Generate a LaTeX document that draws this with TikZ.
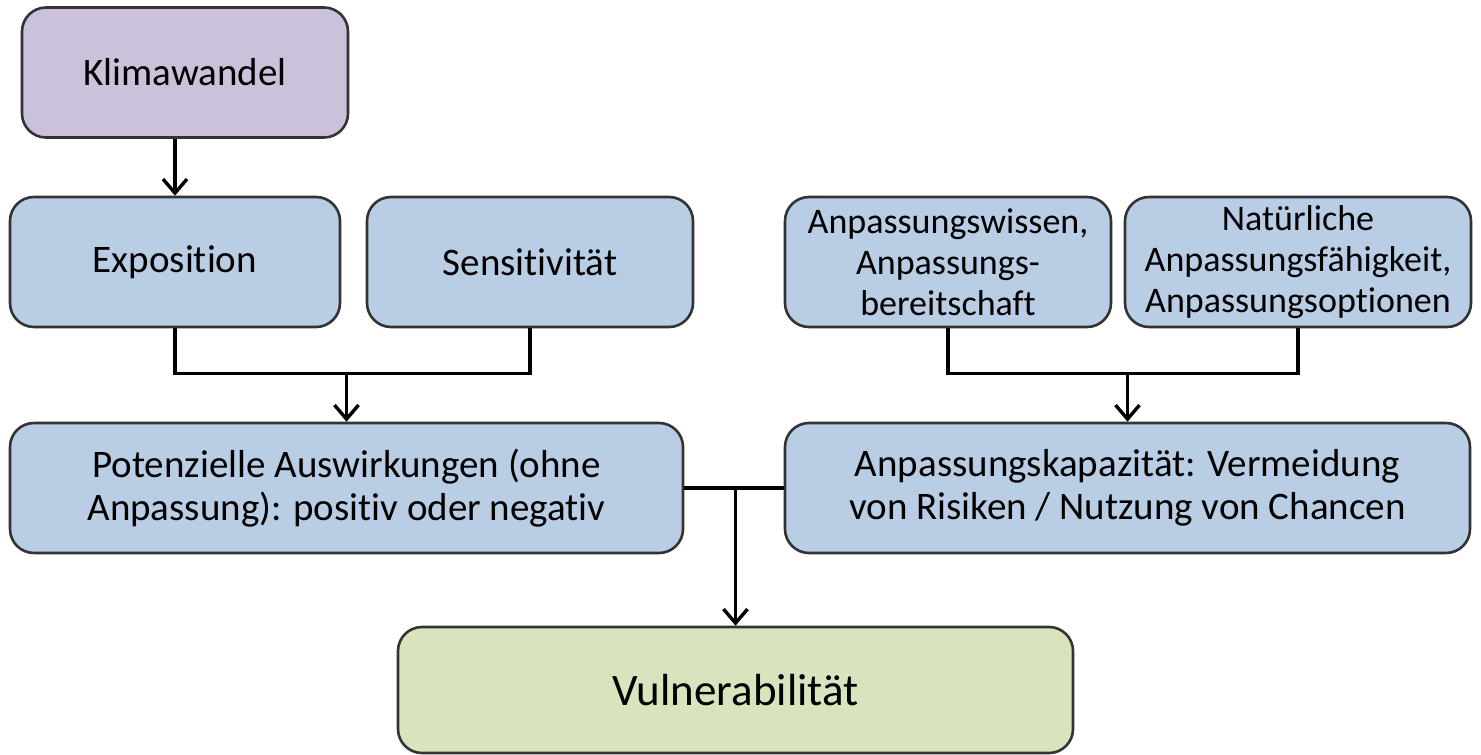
\documentclass[tikz,border=0pt]{standalone}
\usepackage{fontspec}
\setmainfont{Carlito}[Ligatures=NoCommon]
\usetikzlibrary{arrows.meta}
\definecolor{lila}{HTML}{CCC1DA}
\definecolor{hellblau}{HTML}{B9CDE5}
\definecolor{hellgruen}{HTML}{D7E4BD}
\definecolor{rand}{HTML}{333333}
\tikzset{
  box/.style={draw=rand, line width=1.3pt, rounded corners=12pt, align=center,
    inner sep=0pt, minimum height=65pt, fill=hellblau,
    font=\fontsize{19.5}{21.5}\selectfont},
  kleinbox/.style={box, font=\fontsize{18}{20.5}\selectfont},
  linie/.style={line width=1.7pt},
  pfeil/.style={linie, -{Straight Barb[length=7pt,width=12pt]}}
}
\begin{document}
\begin{tikzpicture}[x=0.5pt,y=-0.5pt]
  \useasboundingbox (0,0) rectangle (1481,754);
  \node[box, fill=lila, minimum width=163pt] (klima) at (185,72.5) {Klimawandel};
  \node[box, minimum width=165pt] (expo) at (175,262) {Exposition};
  \node[box, minimum width=163pt] (sens) at (530,262) {Sensitivität};
  \node[kleinbox, minimum width=163pt] (wissen) at (948,262) {Anpassungswissen,\\Anpassungs-\\bereitschaft};
  \node[kleinbox, minimum width=173pt] (natur) at (1298,262) {Natürliche\\Anpassungsfähigkeit,\\Anpassungsoptionen};
  \node[box, minimum width=336.5pt] (pot) at (346.5,488) {Potenzielle Auswirkungen (ohne\\Anpassung): positiv oder negativ};
  \node[box, minimum width=342.5pt] (kap) at (1127.5,488) {Anpassungskapazität: Vermeidung\\von Risiken / Nutzung von Chancen};
  \node[box, fill=hellgruen, minimum width=337.5pt, minimum height=63pt,
    font=\fontsize{22.5}{26}\selectfont] (vul) at (735.5,690) {Vulnerabilität};
  % Verbindungen
  \draw[pfeil] (expo.north |- klima.south) -- (expo.north);
  \draw[linie] (expo.south) -- ++(0,45) coordinate (j1) -| (sens.south);
  \draw[pfeil] (j1 -| pot.north) -- (pot.north);
  \draw[linie] (wissen.south) -- ++(0,45) coordinate (j2) -| (natur.south);
  \draw[pfeil] (j2 -| kap.north) -- (kap.north);
  \draw[linie] (pot.east) -- (kap.west);
  \draw[pfeil] (vul.north |- pot.east) -- (vul.north);
\end{tikzpicture}
\end{document}
